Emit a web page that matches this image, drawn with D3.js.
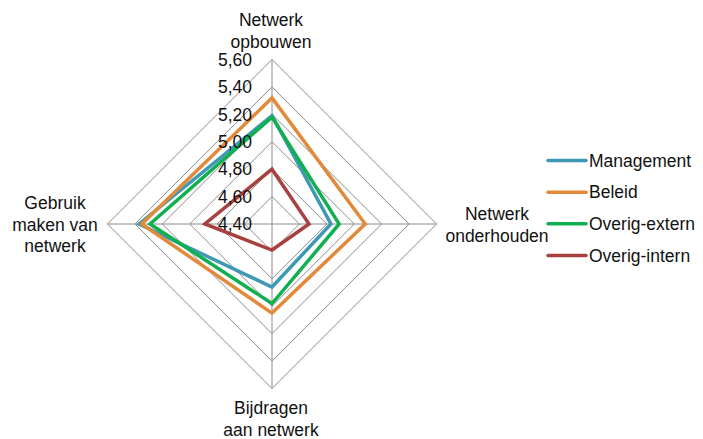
<!DOCTYPE html>
<html>
<head>
<meta charset="utf-8">
<script src="https://cdn.jsdelivr.net/npm/d3@7"></script>
<style>
  html, body { margin: 0; padding: 0; background: #fff; }
  svg { display: block; font-family: "Liberation Sans", Arial, sans-serif; }
</style>
</head>
<body>
<svg id="chart" width="703" height="439"></svg>
<script>
// Axes, clockwise from the top
const axes = [
  ["Netwerk", "opbouwen"],
  ["Netwerk", "onderhouden"],
  ["Bijdragen", "aan netwerk"],
  ["Gebruik", "maken van", "netwerk"]
];
const seriesNames = ["Management", "Beleid", "Overig-extern", "Overig-intern"];
const management   = [5.19, 4.83, 4.86, 5.37];
const beleid       = [5.32, 5.08, 5.05, 5.35];
const overigExtern = [5.18, 4.89, 4.98, 5.29];
const overigIntern = [4.80, 4.67, 4.59, 4.89];
const tickValues = [4.40, 4.60, 4.80, 5.00, 5.20, 5.40, 5.60];
const colors = ["#3f98b4", "#e3893a", "#10b050", "#a8403f"];

const seriesValues = [management, beleid, overigExtern, overigIntern];

const svg = d3.select("#chart");
const cx = 272, cy = 224, R = 164.5;
const r = d3.scaleLinear().domain([4.4, 5.6]).range([0, R]);
const angle = d3.scaleLinear().domain([0, axes.length]).range([0, 2 * Math.PI]);

const pt = (i, v) => {
  const a = angle(i);
  return [cx + r(v) * Math.sin(a), cy - r(v) * Math.cos(a)];
};

const closedLine = d3.line().curve(d3.curveLinearClosed);

// Grid rings
const grid = svg.append("g");
tickValues.slice(1).forEach(t => {
  grid.append("path")
    .attr("d", closedLine(axes.map((_, i) => pt(i, t))))
    .attr("fill", "none")
    .attr("stroke", "#8c8c8c")
    .attr("stroke-width", 1);
});
// Spokes
axes.forEach((_, i) => {
  const [x, y] = pt(i, 5.6);
  grid.append("line")
    .attr("x1", cx).attr("y1", cy).attr("x2", x).attr("y2", y)
    .attr("stroke", "#8c8c8c").attr("stroke-width", 1);
});

// Series polygons
const plot = svg.append("g");
seriesValues.forEach((vals, s) => {
  plot.append("path")
    .attr("d", closedLine(vals.map((v, i) => pt(i, v))))
    .attr("fill", "none")
    .attr("stroke", colors[s])
    .attr("stroke-width", 3.5)
    .attr("stroke-linejoin", "miter");
});

// Tick labels along the top spoke
const fmt = d => d.toFixed(2).replace(".", ",");
svg.append("g").selectAll("text")
  .data(tickValues)
  .join("text")
  .attr("x", cx - 20)
  .attr("y", d => pt(0, d)[1])
  .attr("dy", "0.36em")
  .attr("text-anchor", "end")
  .attr("font-size", 17.5)
  .attr("fill", "#111")
  .text(fmt);

// Axis labels
const labelPos = [
  { x: 271, y: 20, anchor: "middle" },
  { x: 497, y: 214, anchor: "middle" },
  { x: 271, y: 408, anchor: "middle" },
  { x: 55,  y: 203, anchor: "middle" }
];
const lineH = 21.5;
axes.forEach((lines, i) => {
  const p = labelPos[i];
  const t = svg.append("text")
    .attr("text-anchor", p.anchor)
    .attr("font-size", 17.5)
    .attr("fill", "#111");
  lines.forEach((ln, k) => {
    t.append("tspan")
      .attr("x", p.x)
      .attr("y", p.y + k * lineH)
      .attr("dy", "0.36em")
      .text(ln);
  });
});

// Legend
const legend = svg.append("g");
const legY = d3.scaleLinear().domain([0, 3]).range([160.5, 255.5]);
seriesNames.forEach((name, s) => {
  const y = legY(s);
  legend.append("line")
    .attr("x1", 548).attr("x2", 586).attr("y1", y).attr("y2", y)
    .attr("stroke", colors[s]).attr("stroke-width", 3.5).attr("stroke-linecap", "round");
  legend.append("text")
    .attr("x", 589).attr("y", y).attr("dy", "0.36em")
    .attr("font-size", 17.5).attr("fill", "#111")
    .text(name);
});
</script>
</body>
</html>
